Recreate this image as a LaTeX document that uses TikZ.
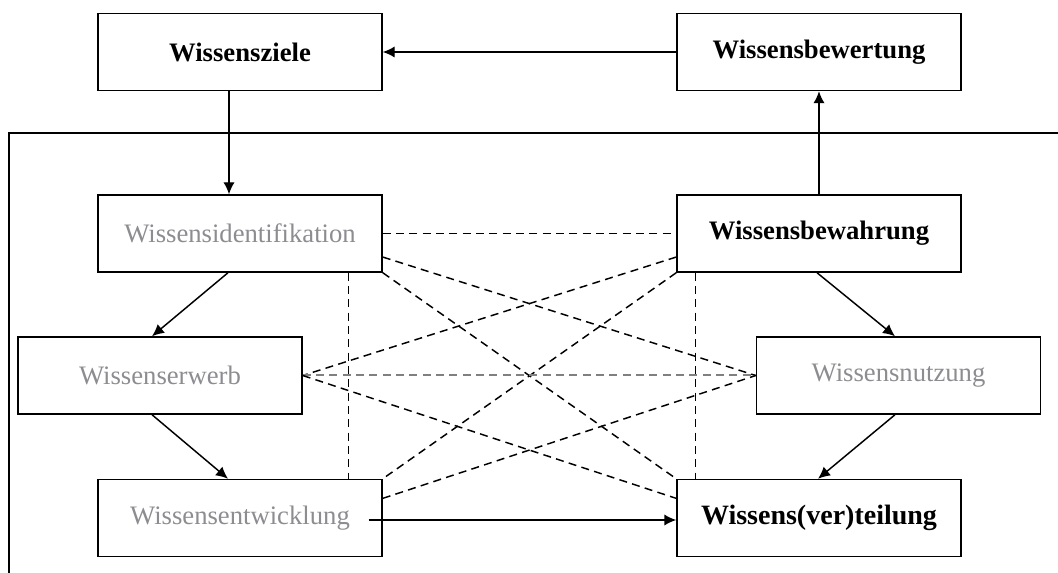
\documentclass[tikz,border=0pt]{standalone}
\usepackage{fontspec}
\setmainfont{Liberation Serif}
\usetikzlibrary{arrows.meta,calc}
\definecolor{txtgray}{RGB}{140,140,145}
\tikzset{every picture/.style={line width=1.1pt}}
\tikzset{
  box/.style={draw, minimum width=213pt, minimum height=57.75pt, inner sep=0pt, font=\fontsize{20}{24}\selectfont},
  main/.style={box, font=\fontsize{20}{24}\selectfont\bfseries},
  sub/.style={box, text=txtgray},
  flow/.style={-{Latex[length=9pt,width=8.5pt]}},
  link/.style={dash pattern=on 6pt off 4pt},
}
\begin{document}
\begin{tikzpicture}[x=0.75pt,y=0.75pt,yscale=-1,xscale=1]
\useasboundingbox (0,0) rectangle (1058,573);

%Frame
\draw (1058,133) -- (9,133) -- (9,573);

%Boxes
\node[main] (ziele) at (240,52) {Wissensziele};
\node[main] (bewert) at (819,52) {Wissensbewertung};
\node[sub] (ident) at (240,233.5) {Wissensidentifikation};
\node[main] (bewahr) at (819,233.5) {Wissensbewahrung};
\node[sub] (erwerb) at (160,375.5) {Wissenserwerb};
\node[sub] (nutz) at (898.5,375.5) {Wissensnutzung};
\node[sub] (entw) at (240,518) {Wissensentwicklung};
\node[main, font=\fontsize{21}{25}\selectfont\bfseries] (vert) at (819,518) {Wissens(ver)teilung};

%Arrows
\draw[flow] (bewert.west) -- (ziele.east);
\draw[flow] ($(ziele.south)+(-11,0)$) -- ($(ident.north)+(-11,0)$);
\draw[flow] (bewahr.north) -- (bewert.south);
\draw[flow] ($(ident.south)+(-12,0)$) -- ($(erwerb.north)+(-8,0)$);
\draw[flow] ($(erwerb.south)+(-8,0)$) -- ($(entw.north)+(-12,0)$);
\draw[flow] ($(bewahr.south)+(-2,0)$) -- ($(nutz.north)+(-3.5,0)$);
\draw[flow] ($(nutz.south)+(-3.5,0)$) -- ($(vert.north)+(-1,0)$);
\draw[flow] ($(entw.east)+(-14,2)$) -- ($(vert.west)+(0,2)$);

%Dashed links
\draw[link] (ident.east) -- (bewahr.west);
\draw[link] ($(ident.east)!0.6!(ident.south east)$) -- (nutz.west);
\draw[link] (ident.south east) -- (vert.north west);
\draw[link] ($(bewahr.west)!0.6!(bewahr.south west)$) -- (erwerb.east);
\draw[link] (bewahr.south west) -- (entw.north east);
\draw[link, gray, line width=1.5pt] (erwerb.east) -- (nutz.west);
\draw[link] (erwerb.east) -- ($(vert.west)!0.5!(vert.north west)$);
\draw[link] ($(entw.east)!0.5!(entw.north east)$) -- (nutz.west);
\draw[link] ($(ident.south east)+(-34,0)$) -- ($(entw.north east)+(-34,0)$);
\draw[link] ($(bewahr.south west)+(19,0)$) -- ($(vert.north west)+(19,0)$);
\end{tikzpicture}
\end{document}
